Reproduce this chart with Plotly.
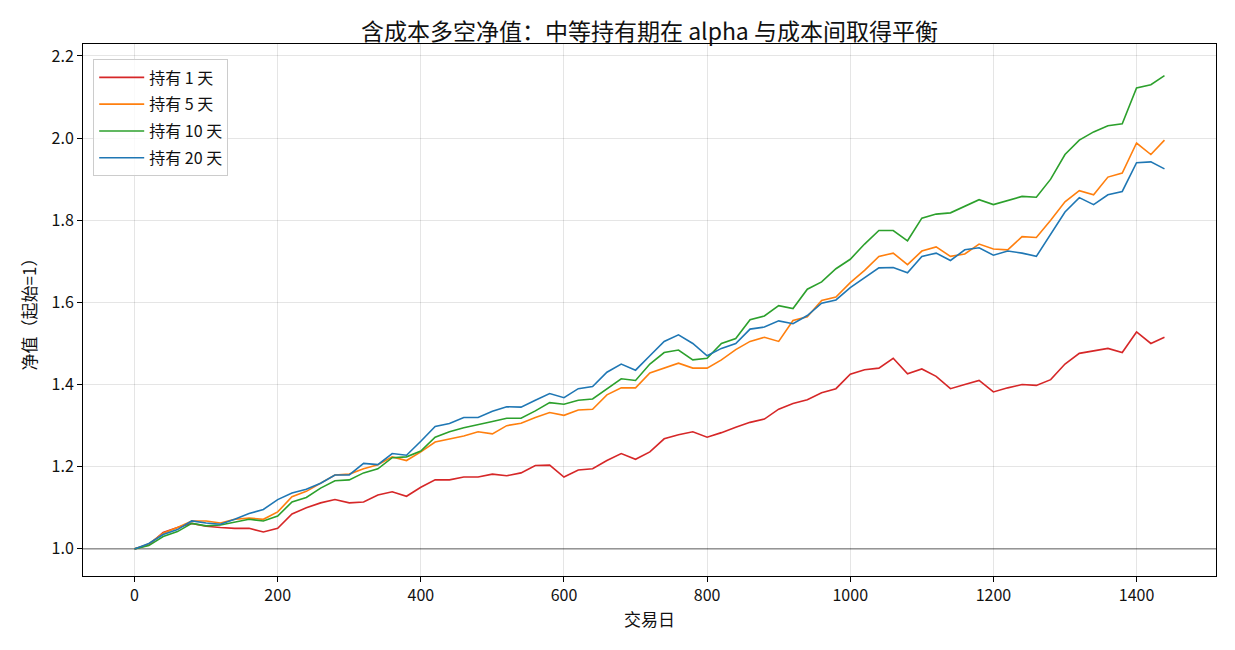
import plotly.graph_objects as go

days = [0, 20, 40, 60, 80, 100, 120, 140, 160, 180, 200, 220, 240, 260, 280, 300,
        320, 340, 360, 380, 400, 420, 440, 460, 480, 500, 520, 540, 560, 580, 600,
        620, 640, 660, 680, 700, 720, 740, 760, 780, 800, 820, 840, 860, 880, 900,
        920, 940, 960, 980, 1000, 1020, 1040, 1060, 1080, 1100, 1120, 1140, 1160,
        1180, 1200, 1220, 1240, 1260, 1280, 1300, 1320, 1340, 1360, 1380, 1400,
        1420, 1439]

hold_1 = [1.000, 1.010, 1.040, 1.052, 1.062, 1.055, 1.052, 1.050, 1.050, 1.041,
          1.050, 1.085, 1.100, 1.112, 1.120, 1.112, 1.114, 1.131, 1.139, 1.128,
          1.150, 1.168, 1.168, 1.175, 1.175, 1.182, 1.178, 1.185, 1.203, 1.204,
          1.175, 1.192, 1.195, 1.215, 1.232, 1.218, 1.236, 1.268, 1.278, 1.285,
          1.272, 1.283, 1.296, 1.308, 1.316, 1.340, 1.354, 1.363, 1.380, 1.390,
          1.425, 1.436, 1.440, 1.464, 1.426, 1.438, 1.420, 1.390, 1.400, 1.410,
          1.382, 1.392, 1.400, 1.398, 1.412, 1.450, 1.476, 1.482, 1.488, 1.478,
          1.528, 1.500, 1.515]

hold_5 = [1.000, 1.012, 1.038, 1.052, 1.068, 1.068, 1.063, 1.072, 1.075, 1.072,
          1.090, 1.127, 1.140, 1.160, 1.180, 1.182, 1.195, 1.205, 1.224, 1.215,
          1.236, 1.260, 1.268, 1.275, 1.285, 1.280, 1.300, 1.306, 1.320, 1.332,
          1.325, 1.338, 1.340, 1.375, 1.392, 1.392, 1.428, 1.440, 1.452, 1.440,
          1.440, 1.460, 1.485, 1.505, 1.515, 1.505, 1.556, 1.565, 1.605, 1.613,
          1.648, 1.678, 1.712, 1.720, 1.692, 1.725, 1.735, 1.712, 1.718, 1.742,
          1.730, 1.728, 1.760, 1.758, 1.800, 1.845, 1.872, 1.862, 1.905, 1.915,
          1.988, 1.960, 1.995]

hold_10 = [1.000, 1.008, 1.030, 1.042, 1.062, 1.056, 1.058, 1.065, 1.072, 1.068,
           1.080, 1.114, 1.125, 1.148, 1.166, 1.168, 1.185, 1.195, 1.222, 1.224,
           1.238, 1.272, 1.285, 1.295, 1.302, 1.310, 1.318, 1.318, 1.336, 1.356,
           1.352, 1.362, 1.365, 1.390, 1.414, 1.410, 1.450, 1.478, 1.484, 1.460,
           1.464, 1.500, 1.512, 1.558, 1.567, 1.592, 1.585, 1.632, 1.650, 1.682,
           1.705, 1.742, 1.775, 1.775, 1.750, 1.805, 1.815, 1.818, 1.835, 1.850,
           1.838, 1.848, 1.858, 1.856, 1.900, 1.960, 1.995, 2.015, 2.030, 2.035,
           2.122, 2.130, 2.152]

hold_20 = [1.000, 1.013, 1.035, 1.047, 1.068, 1.063, 1.060, 1.072, 1.086, 1.096,
           1.120, 1.136, 1.145, 1.160, 1.180, 1.180, 1.208, 1.205, 1.232, 1.228,
           1.262, 1.298, 1.305, 1.320, 1.320, 1.335, 1.346, 1.345, 1.362, 1.378,
           1.368, 1.390, 1.395, 1.430, 1.450, 1.435, 1.470, 1.505, 1.521, 1.500,
           1.470, 1.488, 1.500, 1.535, 1.540, 1.555, 1.548, 1.568, 1.598, 1.606,
           1.636, 1.660, 1.684, 1.685, 1.672, 1.712, 1.720, 1.702, 1.728, 1.733,
           1.715, 1.725, 1.720, 1.712, 1.765, 1.820, 1.855, 1.838, 1.862, 1.870,
           1.940, 1.942, 1.925]

series_names = ["持有 1 天", "持有 5 天", "持有 10 天", "持有 20 天"]
series_values = [hold_1, hold_5, hold_10, hold_20]
colors = ["#d62728", "#ff7f0e", "#2ca02c", "#1f77b4"]

FONT = "Noto Sans CJK SC, Noto Sans, sans-serif"

fig = go.Figure()
for i, (name, vals, col) in enumerate(zip(series_names, series_values, colors)):
    fig.add_trace(go.Scatter(x=days, y=vals, mode="lines", name=name,
                             legendgroup=f"g{i}",
                             line=dict(color=col, width=1.6)))

fig.add_hline(y=1.0, line=dict(color="#888888", width=1.2), layer="below")

fig.update_layout(
    width=1235, height=650,
    margin=dict(l=83, r=19, t=44, b=74),
    paper_bgcolor="white", plot_bgcolor="white",
    font=dict(family=FONT, size=16, color="#111111"),
    title=dict(text="含成本多空净值：中等持有期在 alpha 与成本间取得平衡",
               x=0.5259, xanchor="center", y=0.951, yanchor="middle",
               font=dict(size=23, color="#111111")),
    legend=dict(x=0.009, y=0.971, xanchor="left", yanchor="top",
                bgcolor="rgba(255,255,255,0.8)", bordercolor="#cccccc",
                borderwidth=1, font=dict(size=16), itemwidth=45,
                tracegroupgap=3),
    showlegend=True,
)

fig.update_xaxes(range=[-72, 1511], tickvals=[0, 200, 400, 600, 800, 1000, 1200, 1400],
                 tickfont=dict(size=16),
                 showline=True, linecolor="black", linewidth=1, mirror=True,
                 ticks="outside", ticklen=5, tickcolor="black",
                 showgrid=True, gridcolor="rgba(0,0,0,0.1)", gridwidth=1,
                 zeroline=False,
                 title=dict(text="交易日", font=dict(size=17), standoff=8))
fig.update_yaxes(range=[0.934, 2.229], tickvals=[1.0, 1.2, 1.4, 1.6, 1.8, 2.0, 2.2],
                 tickformat=".1f", tickfont=dict(size=16),
                 showline=True, linecolor="black", linewidth=1, mirror=True,
                 ticks="outside", ticklen=5, tickcolor="black",
                 showgrid=True, gridcolor="rgba(0,0,0,0.1)", gridwidth=1,
                 zeroline=False,
                 title=dict(text="净值（起始=1）", font=dict(size=17), standoff=10))

fig.write_html("out.html")
